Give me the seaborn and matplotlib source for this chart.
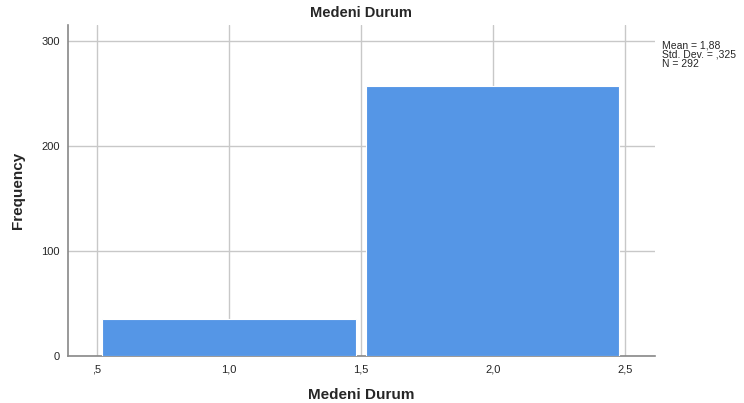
import numpy as np
import matplotlib
matplotlib.use("Agg")
import matplotlib.pyplot as plt
import seaborn as sns

# marital status (1 / 2) and frequencies
values = [1.0, 2.0]
counts = [35, 257]
bin_edges = [0.5, 1.5, 2.5]
x_ticks = [0.5, 1.0, 1.5, 2.0, 2.5]
x_tick_labels = [",5", "1,0", "1,5", "2,0", "2,5"]
y_ticks = [0, 100, 200, 300]
stats_text = "Mean = 1,88\nStd. Dev. = ,325\nN = 292"

sns.set_style("white")
plt.rcParams['font.family'] = ['Liberation Sans', 'DejaVu Sans']

fig = plt.figure(figsize=(7.44, 4.03), dpi=100)
ax = fig.add_axes([0.0914, 0.1166, 0.7886, 0.8214])

sns.histplot(x=values, weights=counts, bins=bin_edges, shrink=0.96,
             color="#5596E6", alpha=1, edgecolor="white", linewidth=0.8, ax=ax, zorder=3)

ax.set_xlim(0.39, 2.614)
ax.set_ylim(0, 315)
ax.set_xticks(x_ticks)
ax.set_xticklabels(x_tick_labels)
ax.set_yticks(y_ticks)
ax.grid(True, color="#c8c8c8", linewidth=1)
ax.set_axisbelow(True)
ax.tick_params(length=0, labelsize=8, pad=6)

for s in ["top", "right"]:
    ax.spines[s].set_visible(False)
for s in ["left", "bottom"]:
    ax.spines[s].set_color("#888888")
    ax.spines[s].set_linewidth(1.2)

ax.set_title("Medeni Durum", fontsize=10.5, fontweight="bold", pad=6)
ax.set_xlabel("Medeni Durum", fontsize=11, fontweight="bold", labelpad=10)
ax.set_ylabel("Frequency", fontsize=11, fontweight="bold", labelpad=12)

fig.text(662 / 744, 1 - 40 / 403, stats_text, fontsize=7.5, va="top", ha="left",
         linespacing=0.95)

fig.savefig("out.png", dpi=100)
